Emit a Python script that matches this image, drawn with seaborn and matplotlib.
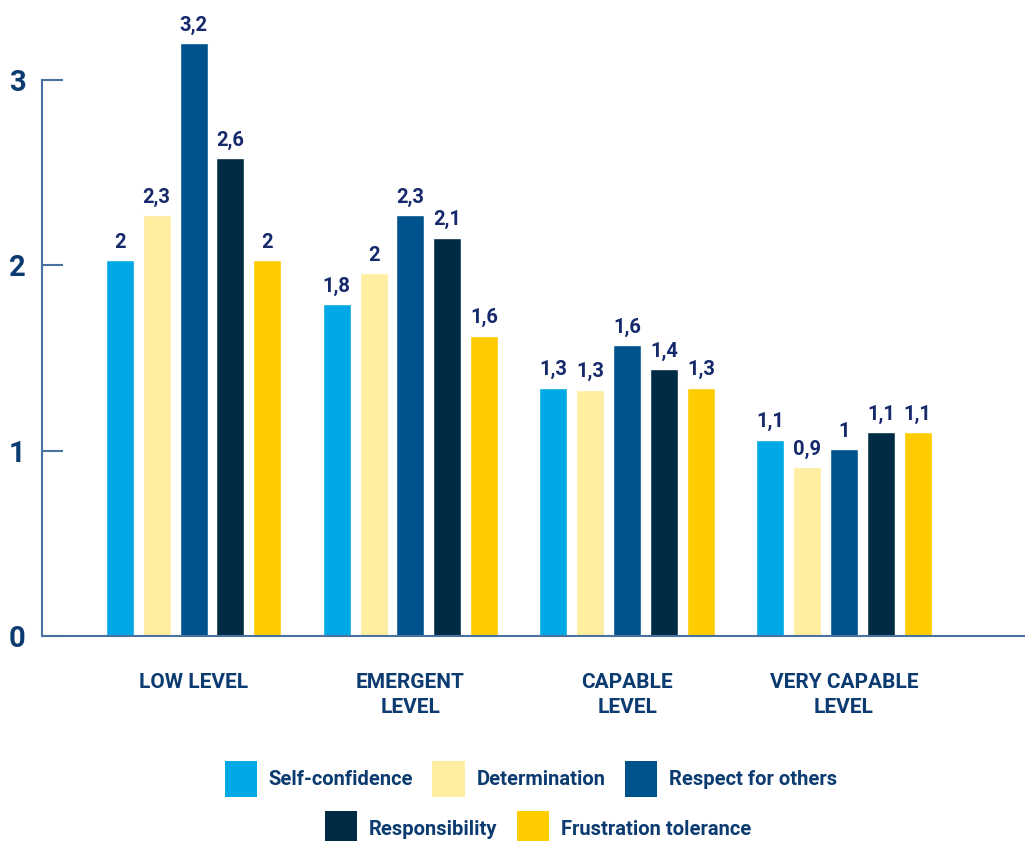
import pandas as pd
import matplotlib.pyplot as plt
import seaborn as sns
from matplotlib.patches import Patch

# chart data
levels = ["LOW LEVEL", "EMERGENT\nLEVEL", "CAPABLE\nLEVEL", "VERY CAPABLE\nLEVEL"]
indicators = ["Self-confidence", "Determination", "Respect for others",
              "Responsibility", "Frustration tolerance"]
self_confidence = [2.03, 1.79, 1.34, 1.06]
determination = [2.27, 1.96, 1.33, 0.91]
respect = [3.20, 2.27, 1.57, 1.01]
responsibility = [2.58, 2.15, 1.44, 1.10]
frustration = [2.03, 1.62, 1.34, 1.10]
value_labels = [
    ["2", "1,8", "1,3", "1,1"],
    ["2,3", "2", "1,3", "0,9"],
    ["3,2", "2,3", "1,6", "1"],
    ["2,6", "2,1", "1,4", "1,1"],
    ["2", "1,6", "1,3", "1,1"],
]
colors = ["#00A8E6", "#FFEDA0", "#00528C", "#002B45", "#FFCC00"]

series = [self_confidence, determination, respect, responsibility, frustration]
rows = []
for name, vals in zip(indicators, series):
    for lvl, v in zip(levels, vals):
        rows.append({"level": lvl, "indicator": name, "value": v})
df = pd.DataFrame(rows)

sns.set_theme(style="white")
plt.rcParams["font.family"] = ["Roboto", "DejaVu Sans"]
text_col = "#0B3B70"
label_col = "#16296B"
spine_col = "#4A72A0"

fig = plt.figure(figsize=(10.25, 8.41), dpi=100)
ax = fig.add_axes([0.041, 0.2438, 0.959, 0.749])

sns.barplot(data=df, x="level", y="value", hue="indicator", hue_order=indicators,
            palette=colors, width=0.85, gap=0.24, saturation=1, ax=ax, legend=False)

for cont, labs in zip(ax.containers, value_labels):
    ax.bar_label(cont, labels=labs, padding=6, fontsize=14.5, fontweight="bold",
                 color=label_col)

ax.set_xlim(-0.699, 3.835)
ax.set_ylim(0, 3.4)
ax.set_yticks([0, 1, 2, 3])
ax.set_yticklabels(["0", "1", "2", "3"])
ax.set_xlabel("")
ax.set_ylabel("")

for s in ["top", "right"]:
    ax.spines[s].set_visible(False)
for s in ["left", "bottom"]:
    ax.spines[s].set_color(spine_col)
    ax.spines[s].set_linewidth(1.5)
ax.spines["left"].set_bounds(0, 3)

ax.tick_params(axis="y", direction="in", length=15, width=1.5, color=spine_col,
               pad=12, labelsize=21, labelcolor=text_col, left=True)
ax.tick_params(axis="x", length=0, pad=27, labelsize=15, labelcolor=text_col)
for t in ax.get_yticklabels():
    t.set_fontweight("bold")
for t in ax.get_xticklabels():
    t.set_fontweight("bold")
    t.set_linespacing(1.4)
    t.set_verticalalignment("top")

handles = [Patch(facecolor=c, edgecolor="none") for c in colors]
leg_kw = dict(frameon=False, handlelength=1.6, handleheight=2.3, handletextpad=0.6,
              columnspacing=0.95, prop={"weight": "bold", "size": 14.5},
              labelcolor=text_col, loc="center", borderpad=0)
fig.legend(handles[:3], indicators[:3], ncol=3, bbox_to_anchor=(0.518, 0.0737), **leg_kw)
fig.legend(handles[3:], indicators[3:], ncol=2, bbox_to_anchor=(0.525, 0.0143), **leg_kw)

fig.savefig("out.png", dpi=100)
